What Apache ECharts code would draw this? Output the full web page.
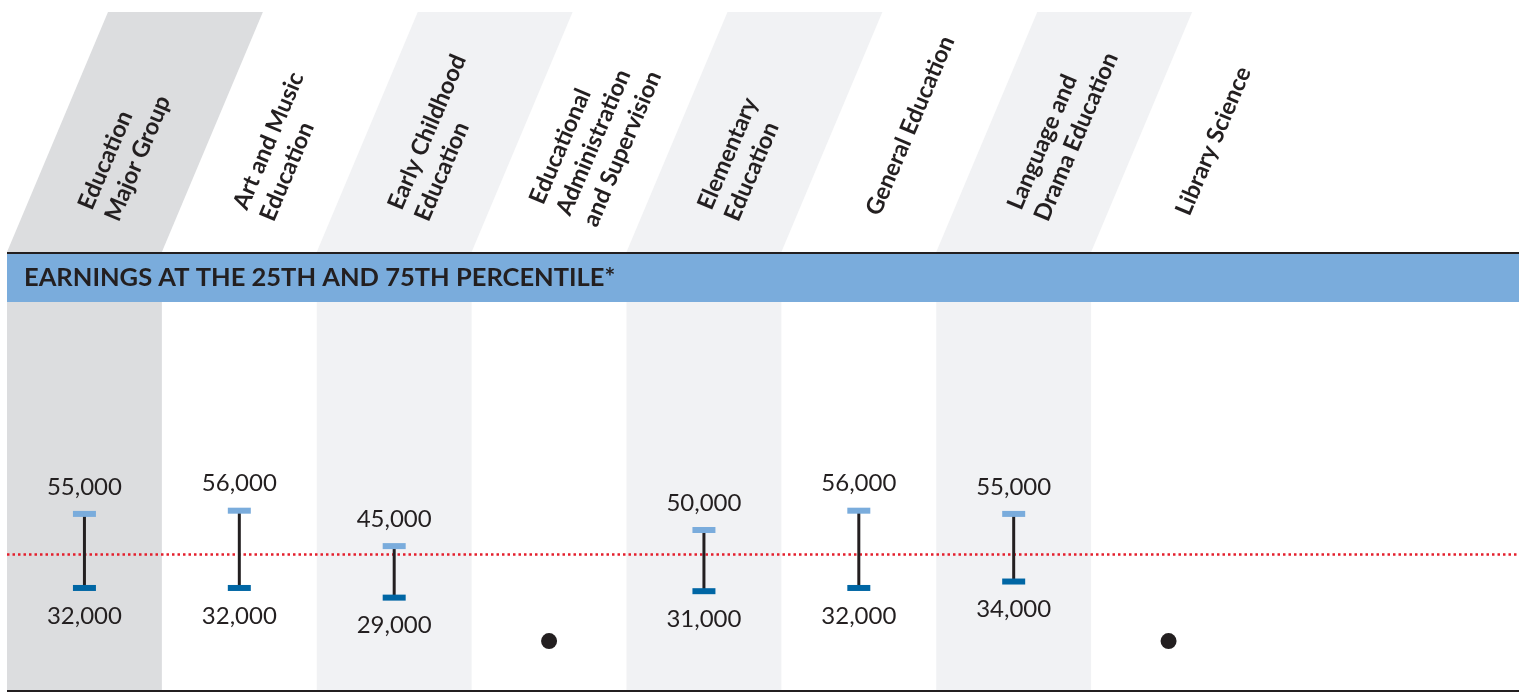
<!DOCTYPE html>
<html><head><meta charset="utf-8">
<script src="https://cdn.jsdelivr.net/npm/echarts@6/dist/echarts.min.js"></script>
<style>html,body{margin:0;padding:0;background:#fff;}#chart{width:1519px;height:693px;}</style>
</head><body><div id="chart"></div>
<script>
// ---- data ----
const categories = [
  'Education\nMajor Group',
  'Art and Music\nEducation',
  'Early Childhood\nEducation',
  'Educational\nAdministration\nand Supervision',
  'Elementary\nEducation',
  'General Education',
  'Language and\nDrama Education',
  'Library Science'
];
const p75 = [55000, 56000, 45000, null, 50000, 56000, 55000, null];
const p25 = [32000, 32000, 29000, null, 31000, 32000, 34000, null];
const referenceValue = 42500;
const notAvailableMarker = 15500;
const bandTitle = 'EARNINGS AT THE 25TH AND 75TH PERCENTILE*';

// ---- style ----
const INK = '#231f20', LIGHT = '#7aacdc', DARK = '#0066a4';
const SHADE1 = '#dcdddf', SHADE2 = '#f1f2f4', RED = '#e41f2d';
const COL_W = 154.875, LEFT = 7, W = 1519;
const xMax = (W - LEFT) / COL_W;

const rangeData = categories.map((c, i) => p75[i] == null ? null : [i + 0.5, p75[i], p25[i]]).filter(Boolean);
const naData = categories.map((c, i) => p75[i] == null ? [i + 0.5, notAvailableMarker] : null).filter(Boolean);
const fmt = v => Number(v).toLocaleString('en-US');
const shadeAreas = categories.map((c, i) => i % 2 === 0
  ? [{ xAxis: i, itemStyle: { color: i === 0 ? SHADE1 : SHADE2 } }, { xAxis: i + 1 }] : null).filter(Boolean);

const chart = echarts.init(document.getElementById('chart'), null, { renderer: 'canvas' });
chart.setOption({
  animation: false,
  backgroundColor: '#ffffff',
  grid: { left: LEFT, right: 0, top: 301.4, bottom: 2 },
  xAxis: { type: 'value', min: 0, max: xMax, show: false },
  yAxis: { type: 'value', min: 0, max: 121000, show: false },
  series: [
    {
      type: 'custom',
      name: 'range',
      data: rangeData,
      encode: { x: 0, y: [1, 2] },
      z: 5,
      renderItem(params, api) {
        const x = api.value(0);
        const top = api.coord([x, api.value(1)]);
        const bot = api.coord([x, api.value(2)]);
        const cx = top[0];
        return {
          type: 'group',
          children: [
            { type: 'line', shape: { x1: cx, y1: top[1], x2: cx, y2: bot[1] }, style: { stroke: INK, lineWidth: 3 } },
            { type: 'rect', shape: { x: cx - 11.5, y: top[1] - 3, width: 23, height: 6 }, style: { fill: LIGHT } },
            { type: 'rect', shape: { x: cx - 11.5, y: bot[1] - 3, width: 23, height: 6 }, style: { fill: DARK } },
            { type: 'text', x: cx, y: top[1] - 27, style: { text: fmt(api.value(1)), fill: INK, font: '24px Lato', textAlign: 'center', textVerticalAlign: 'middle' } },
            { type: 'text', x: cx, y: bot[1] + 28, style: { text: fmt(api.value(2)), fill: INK, font: '24px Lato', textAlign: 'center', textVerticalAlign: 'middle' } }
          ]
        };
      },
      markArea: { silent: true, data: shadeAreas, z: 0 },
      markLine: {
        silent: true, symbol: 'none', label: { show: false }, z: 3,
        lineStyle: { color: RED, type: [2.5, 3], width: 2.5 },
        data: [{ yAxis: referenceValue }]
      }
    },
    {
      type: 'scatter',
      name: 'n/a',
      data: naData,
      symbol: 'circle',
      symbolSize: 16,
      itemStyle: { color: INK, opacity: 1 },
      z: 5
    }
  ]
});

// ---- decorations positioned from the axis ----
const px = v => chart.convertToPixel({ xAxisIndex: 0 }, v);
const graphics = [];
const HEAD_TOP = 12, HEAD_BOT = 252, SLANT = 101;
categories.forEach((c, i) => {
  if (i % 2 === 0) {
    const l = px(i), r = px(i + 1);
    graphics.push({ type: 'polygon', z: 1, shape: { points: [[l, HEAD_BOT], [r, HEAD_BOT], [r + SLANT, HEAD_TOP], [l + SLANT, HEAD_TOP]] }, style: { fill: i === 0 ? SHADE1 : SHADE2 } });
  }
});
categories.forEach((c, i) => {
  graphics.push({ type: 'text', z: 5, x: px(i + 0.5) + 14, y: 214, rotation: 67 * Math.PI / 180,
    style: { text: c, fill: INK, font: 'bold 23.5px Lato', textAlign: 'left', textVerticalAlign: 'middle', lineHeight: 29 } });
});
graphics.push({ type: 'rect', z: 6, shape: { x: LEFT, y: 252, width: W - LEFT, height: 2 }, style: { fill: INK } });
graphics.push({ type: 'rect', z: 6, shape: { x: LEFT, y: 254, width: W - LEFT, height: 48 }, style: { fill: LIGHT } });
graphics.push({ type: 'text', z: 7, x: 24, y: 278, style: { text: bandTitle, fill: INK, font: 'bold 25.5px Lato', textVerticalAlign: 'middle' } });
graphics.push({ type: 'rect', z: 6, shape: { x: LEFT, y: 690, width: W - LEFT, height: 2 }, style: { fill: INK } });
chart.setOption({ graphic: graphics });
</script>
</body></html>
